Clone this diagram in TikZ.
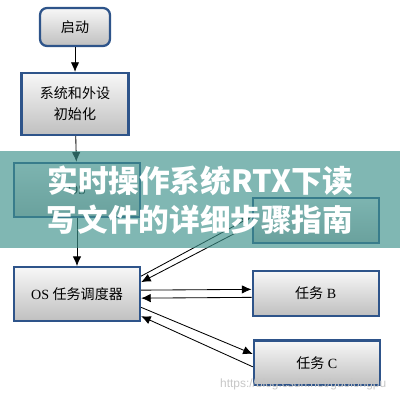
\documentclass[tikz,border=0pt]{standalone}
\usepackage{fontspec}
\setmainfont{Liberation Serif}
\setsansfont{Liberation Sans}
\newfontfamily\cjk{Noto Sans CJK SC}
\usetikzlibrary{arrows.meta,positioning}
\definecolor{boxblue}{RGB}{46,84,138}
\definecolor{bannerteal}{RGB}{62,146,140}

\begin{document}
\begin{tikzpicture}[
    node distance=0.7cm and 2.8cm,
    flowbox/.style={draw=boxblue, line width=1.6pt, top color=gray!6, bottom color=gray!50, minimum width=3.15cm, minimum height=1.35cm, align=center, font=\fontsize{10}{15}\selectfont},
    taskbox/.style={flowbox, minimum height=1.12cm},
    arr/.style={-{Latex[length=2.4mm,width=2.1mm]}, line width=0.6pt}
]
\useasboundingbox (0,0) rectangle (10,-10);

\node[flowbox, rounded corners=5pt, minimum width=1.75cm, minimum height=0.95cm] (start) at (1.875,-0.675) {\cjk 启动};
\node[flowbox, minimum width=2.68cm, minimum height=1.55cm, below=0.62cm of start] (init) {\cjk 系统和外设\\\cjk 初始化};
\node[flowbox, below=0.64cm of init, xshift=0.05cm] (osinit) {OS};
\node[flowbox, below=1.2cm of osinit] (sched) {OS {\cjk 任务调度器}};

\node[taskbox, right=2.76cm of sched, yshift=0.02cm] (taskb) {{\cjk 任务} B};
\node[taskbox, above=0.64cm of taskb] (taska) {};
\node[taskbox, below=0.56cm of taskb, xshift=0.03cm] (taskc) {{\cjk 任务} C};

\draw[arr] (start) -- (init);
\draw[arr] (init) -- (osinit);
\draw[arr] (osinit) -- (sched);

\draw[arr] ([yshift=0.45cm]sched.east) -- ([yshift=0.1cm]taska.west);
\draw[arr] ([yshift=-0.1cm]taska.west) -- ([yshift=0.3cm]sched.east);
\draw[arr] ([yshift=0.1cm]sched.east) -- ([yshift=0.1cm]taskb.west);
\draw[arr] ([yshift=-0.1cm]taskb.west) -- ([yshift=-0.1cm]sched.east);
\draw[arr] ([yshift=-0.33cm]sched.east) -- ([yshift=0.22cm]taskc.west);
\draw[arr] ([yshift=-0.1cm]taskc.west) -- ([yshift=-0.55cm]sched.east);

% title band over the chart
\fill[bannerteal, fill opacity=0.66] (0,-3.775) rectangle (10,-6.2);
\node[text=white, align=center, font=\cjk\bfseries\fontsize{21.8}{27.7}\selectfont] (title) at (5,-5) {实时操作系统RTX下读\\写文件的详细步骤指南};

\node[text=gray!45, font=\sffamily\fontsize{8.5}{10}\selectfont] (watermark) at (7.58,-9.62) {https://blog.csdn.net/guolongpu};
\end{tikzpicture}
\end{document}
